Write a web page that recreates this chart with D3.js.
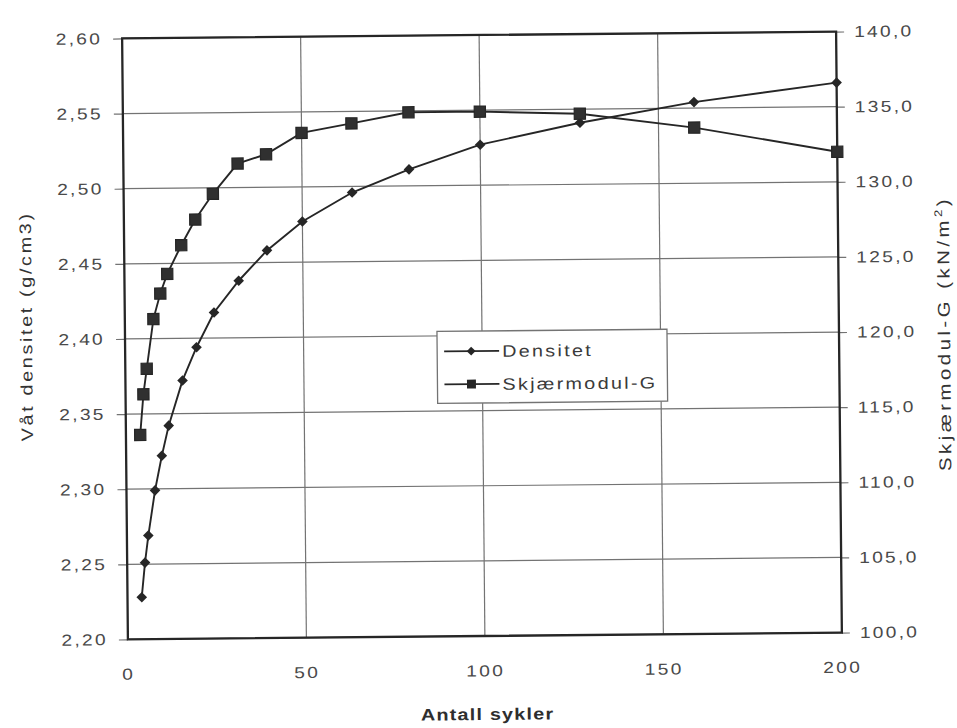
<!DOCTYPE html>
<html>
<head>
<meta charset="utf-8">
<script src="https://cdn.jsdelivr.net/npm/d3@7"></script>
<style>
  html, body { margin: 0; padding: 0; background: #fff; }
  svg { display: block; }
  text { font-family: "Liberation Sans", Arial, sans-serif; }
</style>
</head>
<body>
<svg id="chart" width="957" height="728"></svg>
<script>
// Number of load cycles
const cycles = [4, 5, 6, 8, 10, 12, 16, 20, 25, 32, 40, 50, 64, 80, 100, 128, 160, 200];
// Wet density (g/cm3), left axis
const densitet = [2.228, 2.251, 2.269, 2.299, 2.322, 2.342, 2.372, 2.394, 2.417, 2.438, 2.458, 2.477, 2.496, 2.511, 2.527, 2.541, 2.554, 2.566];
// Shear modulus G (kN/m2), right axis
const skjaermodul = [113.6, 116.3, 118.0, 121.3, 123.0, 124.3, 126.2, 127.9, 129.6, 131.6, 132.2, 133.6, 134.2, 134.9, 134.9, 134.7, 133.7, 132.0];

const xTicks = [0, 50, 100, 150, 200];
const yLeftTicks = [2.20, 2.25, 2.30, 2.35, 2.40, 2.45, 2.50, 2.55, 2.60];
const yRightTicks = [100, 105, 110, 115, 120, 125, 130, 135, 140];

const seriesNames = ["Densitet", "Skjærmodul-G"];

const svg = d3.select("#chart");

const pL = 125, pR = 839, pT = 35, pB = 636;
const cx = (pL + pR) / 2, cy = (pT + pB) / 2;
const SX = 1.2; // horizontal widening of the lettering

// whole chart sits at a slight tilt
const root = svg.append("g")
  .attr("transform", `rotate(-0.55, ${cx}, ${cy})`);

const x = d3.scaleLinear().domain([0, 200]).range([pL, pR]);
const yL = d3.scaleLinear().domain([2.20, 2.60]).range([pB, pT]);
const yR = d3.scaleLinear().domain([100, 140]).range([pB, pT]);

const fmt2 = v => d3.format(".2f")(v).replace(".", ",");
const fmt1 = v => d3.format(".1f")(v).replace(".", ",");

const ink = "#262626";
const gridCol = "#737373";
const labelCol = "#4a4a4a";
const tickLS = 1.9;

// widen axis tick text around its anchor point
function widen(sel) {
  sel.each(function () {
    const t = d3.select(this);
    const tx = +t.attr("x") || 0;
    const ty = +t.attr("y") || 0;
    t.attr("x", 0).attr("y", 0)
      .attr("transform", `translate(${tx},${ty}) scale(${SX},1)`);
  });
}

// Horizontal grid lines
root.append("g").selectAll("line").data(yLeftTicks).join("line")
  .attr("x1", pL).attr("x2", pR)
  .attr("y1", d => yL(d)).attr("y2", d => yL(d))
  .attr("stroke", gridCol).attr("stroke-width", 1.2);

// Vertical grid lines
root.append("g").selectAll("line").data(xTicks.slice(1, -1)).join("line")
  .attr("x1", d => x(d)).attr("x2", d => x(d))
  .attr("y1", pT).attr("y2", pB)
  .attr("stroke", gridCol).attr("stroke-width", 1.2);

// Left axis
const axL = root.append("g").attr("transform", `translate(${pL},0)`)
  .call(d3.axisLeft(yL).tickValues(yLeftTicks).tickFormat(fmt2).tickSize(9).tickPadding(11));
// Right axis
const axR = root.append("g").attr("transform", `translate(${pR},0)`)
  .call(d3.axisRight(yR).tickValues(yRightTicks).tickFormat(fmt1).tickSize(8).tickPadding(10));
// Bottom axis
const axB = root.append("g").attr("transform", `translate(0,${pB})`)
  .call(d3.axisBottom(x).tickValues(xTicks).tickFormat(d3.format("d")).tickSize(0).tickPadding(29));

[axL, axR, axB].forEach(a => {
  a.select(".domain").remove();
  a.selectAll(".tick line").attr("stroke", gridCol).attr("stroke-width", 1.2);
  a.selectAll(".tick text")
    .attr("fill", labelCol)
    .style("font-size", "16px")
    .style("letter-spacing", tickLS + "px")
    .style("font-family", "'Liberation Sans', Arial, sans-serif")
    .call(widen);
});

// Plot frame
root.append("rect")
  .attr("x", pL).attr("y", pT)
  .attr("width", pR - pL).attr("height", pB - pT)
  .attr("fill", "none").attr("stroke", ink).attr("stroke-width", 2.3);

// Series lines
const lineD = d3.line().x((d, i) => x(cycles[i])).y(d => yL(d));
const lineG = d3.line().x((d, i) => x(cycles[i])).y(d => yR(d));

root.append("path").datum(densitet)
  .attr("d", lineD).attr("fill", "none")
  .attr("stroke", ink).attr("stroke-width", 1.9);
root.append("path").datum(skjaermodul)
  .attr("d", lineG).attr("fill", "none")
  .attr("stroke", ink).attr("stroke-width", 1.9);

// Markers
const diamond = d3.symbol().type(d3.symbolDiamond2).size(72);
const square = d3.symbol().type(d3.symbolSquare).size(125);

root.append("g").selectAll("path").data(densitet).join("path")
  .attr("transform", (d, i) => `translate(${x(cycles[i])},${yL(d)})`)
  .attr("d", diamond).attr("fill", ink);

root.append("g").selectAll("path").data(skjaermodul).join("path")
  .attr("transform", (d, i) => `translate(${x(cycles[i])},${yR(d)})`)
  .attr("d", square).attr("fill", "#303030").attr("stroke", ink).attr("stroke-width", 1.2);

// Legend
const lg = root.append("g").attr("transform", "translate(437,331)");
lg.append("rect").attr("width", 230).attr("height", 72)
  .attr("fill", "#fff").attr("stroke", gridCol).attr("stroke-width", 1.3);
seriesNames.forEach((name, i) => {
  const yy = 20 + i * 33;
  lg.append("line").attr("x1", 7).attr("x2", 62).attr("y1", yy).attr("y2", yy)
    .attr("stroke", ink).attr("stroke-width", 1.8);
  lg.append("path").attr("transform", `translate(34,${yy})`)
    .attr("d", i === 0 ? d3.symbol().type(d3.symbolDiamond2).size(50)() : d3.symbol().type(d3.symbolSquare).size(80)())
    .attr("fill", ink);
  lg.append("text")
    .attr("transform", `translate(65,${yy + 6}) scale(${SX},1)`)
    .attr("fill", "#3a3a3a").style("font-size", "16.5px")
    .style("letter-spacing", "1.9px").text(name);
});

// Axis titles
root.append("text")
  .attr("transform", `translate(32,322) rotate(-90) scale(${SX},1)`)
  .attr("text-anchor", "middle")
  .attr("fill", "#333").style("font-size", "16.5px")
  .style("letter-spacing", "2.2px")
  .text("Våt densitet (g/cm3)");

const rt = root.append("text")
  .attr("transform", `translate(950,338) rotate(-90) scale(${SX},1)`)
  .attr("text-anchor", "middle")
  .attr("fill", "#333").style("font-size", "17px")
  .style("letter-spacing", "2.9px");
rt.append("tspan").text("Skjærmodul-G (kN/m");
rt.append("tspan").attr("dy", -7).style("font-size", "11px").text("2");
rt.append("tspan").attr("dy", 7).text(")");

root.append("text")
  .attr("transform", `translate(484,720) scale(${SX},1)`)
  .attr("text-anchor", "middle")
  .attr("fill", "#2e2e2e").style("font-size", "16.5px").style("font-weight", "bold")
  .style("letter-spacing", "1px")
  .text("Antall sykler");
</script>
</body>
</html>
